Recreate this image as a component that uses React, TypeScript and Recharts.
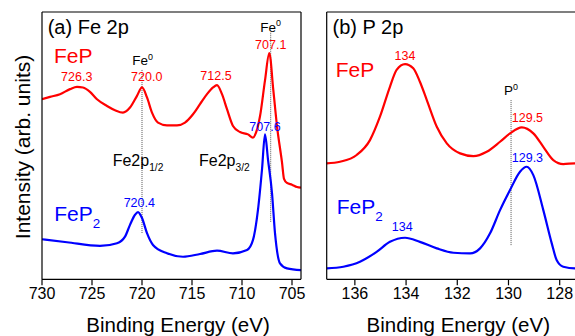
import { LineChart, Line, XAxis, YAxis, ReferenceLine, ReferenceDot } from 'recharts'

const FONT = "'Liberation Sans', Arial, Helvetica, sans-serif"
const RED = '#ff0000'
const BLUE = '#0000ff'
const BLACK = '#000000'

// Fe 2p panel (binding energy in eV, intensity in arb. units)
const feEnergyFeP = [730, 729.2, 728.2, 727.2, 726.5, 725.9, 725.2, 724.5, 723.5, 722.7, 721.9, 721.2, 720.5, 720.0, 719.5, 719.0, 718.4, 717.5, 716.5, 715.7, 714.9, 714.2, 713.5, 712.9, 712.5, 712.0, 711.5, 710.9, 710.2, 709.4, 708.9, 708.6, 708.2, 707.7, 707.27, 706.87, 706.5, 706.0, 705.8, 705.5, 705.0, 704.5, 704.1]
const feIntensityFeP = [12.62, 12.79, 12.99, 13.36, 13.53, 13.48, 13.16, 12.62, 12.13, 11.82, 11.64, 12.01, 12.87, 13.48, 12.75, 11.64, 10.91, 10.71, 10.71, 10.91, 11.52, 12.26, 12.99, 13.48, 13.65, 12.99, 11.89, 10.66, 10.22, 10.05, 9.81, 10.17, 11.37, 14.0, 16.0, 13.3, 10.66, 8.0, 6.8, 6.5, 6.37, 6.2, 6.15]

const feEnergyFeP2 = [730, 727.5, 724.2, 722.5, 721.7, 721.2, 720.7, 720.4, 720.0, 719.5, 718.9, 717.5, 715.9, 714.2, 712.5, 710.9, 709.5, 708.9, 708.4, 708.0, 707.7, 707.4, 707.0, 706.7, 706.2, 705.5, 704.1]
const feIntensityFeP2 = [2.38, 2.16, 1.89, 2.09, 2.57, 3.43, 4.17, 4.37, 3.93, 2.82, 1.96, 1.35, 1.1, 1.3, 1.54, 1.35, 1.59, 2.33, 4.54, 7.48, 10.05, 8.21, 5.76, 2.82, 0.62, 0.25, 0.12]

// P 2p panel
const pEnergyFeP = [137.1, 136.58, 135.93, 135.41, 135.02, 134.63, 134.37, 134.04, 133.72, 133.46, 133.19, 132.8, 132.41, 131.89, 131.37, 130.85, 130.33, 129.94, 129.48, 129.03, 128.64, 128.25, 127.86, 127.4, 127.0]
const pIntensityFeP = [7.93, 8.05, 8.54, 9.63, 11.34, 13.53, 14.76, 15.19, 14.88, 13.9, 12.56, 10.61, 9.39, 8.66, 8.46, 8.78, 9.51, 10.12, 10.56, 10.12, 9.14, 8.17, 7.88, 7.93, 7.93]

const pEnergyFeP2 = [137.1, 136.45, 135.8, 135.15, 134.63, 134.04, 133.46, 132.8, 132.15, 131.5, 131.11, 130.72, 130.33, 129.94, 129.55, 129.29, 129.03, 128.64, 128.31, 128.12, 127.86, 127.4, 127.0]
const pIntensityFeP2 = [0.25, 0.37, 0.73, 1.46, 2.19, 2.49, 2.19, 1.71, 1.39, 1.34, 1.71, 2.81, 4.51, 5.98, 7.32, 7.68, 7.07, 4.51, 2.08, 0.86, 0.37, 0.25, 0.25]

// axis ticks
const feTicks = [730, 725, 720, 715, 710, 705]
const feMinorTicks = [727.5, 722.5, 717.5, 712.5, 707.5]
const feTopTicks = [730, 727.5, 725, 722.5, 720, 717.5, 715, 712.5, 710, 707.5, 705]
const pTicks = [136, 134, 132, 130, 128]
const pMinorTicks = [137, 135, 133, 131, 129, 127]
const pTopTicks = [137, 136, 135, 134, 133, 132, 131, 130, 129, 128, 127]
const yTicks = [0, 1, 2, 3, 4, 5, 6, 7, 8, 9, 10, 11, 12, 13, 14, 15, 16, 17, 18, 19]
const yDomain = [-0.55, 19]

// dotted guide lines (energy, from, to)
const feGuides = [
  { x: 720.0, from: 2.84, to: 14.78 },
  { x: 707.13, from: 3.66, to: 17.5 },
]
const pGuides = [{ x: 129.9, from: 1.95, to: 12.56 }]

type Note = {
  x: number
  y: number
  text: string
  sub?: string
  sup?: string
  color: string
  size: number
  anchor?: 'start' | 'middle'
}

const feNotes: Note[] = [
  { x: 729.43, y: 17.39, text: '(a) Fe 2p', color: BLACK, size: 20, anchor: 'start' },
  { x: 728.8, y: 15.25, text: 'FeP', color: RED, size: 21, anchor: 'start' },
  { x: 726.53, y: 13.95, text: '726.3', color: RED, size: 12.5 },
  { x: 719.93, y: 15.12, text: 'Fe', sup: '0', color: BLACK, size: 13.5 },
  { x: 719.53, y: 13.95, text: '720.0', color: RED, size: 12.5 },
  { x: 712.6, y: 14.02, text: '712.5', color: RED, size: 12.5 },
  { x: 707.13, y: 17.56, text: 'Fe', sup: '0', color: BLACK, size: 13.5 },
  { x: 707.13, y: 16.29, text: '707.1', color: RED, size: 12.5 },
  { x: 707.7, y: 10.29, text: '707.6', color: BLUE, size: 12.5 },
  { x: 722.93, y: 7.75, text: 'Fe2p', sub: '1/2', color: BLACK, size: 16, anchor: 'start' },
  { x: 714.3, y: 7.75, text: 'Fe2p', sub: '3/2', color: BLACK, size: 16, anchor: 'start' },
  { x: 728.77, y: 3.71, text: 'FeP', sub: '2', color: BLUE, size: 21, anchor: 'start' },
  { x: 720.27, y: 4.71, text: '720.4', color: BLUE, size: 12.5 },
]

const pNotes: Note[] = [
  { x: 136.87, y: 17.39, text: '(b) P 2p', color: BLACK, size: 20, anchor: 'start' },
  { x: 136.75, y: 14.22, text: 'FeP', color: RED, size: 21, anchor: 'start' },
  { x: 134.04, y: 15.49, text: '134', color: RED, size: 12.5 },
  { x: 129.9, y: 12.93, text: 'P', sup: '0', color: BLACK, size: 13.5 },
  { x: 129.26, y: 10.93, text: '129.5', color: RED, size: 12.5 },
  { x: 129.26, y: 8.05, text: '129.3', color: BLUE, size: 12.5 },
  { x: 136.71, y: 4.2, text: 'FeP', sub: '2', color: BLUE, size: 21, anchor: 'start' },
  { x: 134.15, y: 2.98, text: '134', color: BLUE, size: 12.5 },
]

const toPoints = (xs: number[], ys: number[]) => xs.map((x, i) => ({ x, y: ys[i] }))

function noteLabel(n: Note) {
  return (props: any) => {
    const vb = props.viewBox || { x: 0, y: 0, width: 0, height: 0 }
    const cx = vb.x + (vb.width || 0) / 2
    const cy = vb.y + (vb.height || 0) / 2
    return (
      <text
        x={cx}
        y={cy}
        fill={n.color}
        fontSize={n.size}
        fontFamily={FONT}
        textAnchor={n.anchor ?? 'middle'}
      >
        {n.text}
        {n.sub && (
          <tspan fontSize={n.size * 0.64} dy={n.size * 0.33}>
            {n.sub}
          </tspan>
        )}
        {n.sup && (
          <tspan fontSize={n.size * 0.66} dy={-n.size * 0.4}>
            {n.sup}
          </tspan>
        )}
      </text>
    )
  }
}

interface PanelProps {
  left: number
  width: number
  margin: { top: number; right: number; bottom: number; left: number }
  domain: number[]
  ticks: number[]
  minorTicks: number[]
  topTicks: number[]
  red: { x: number; y: number }[]
  blue: { x: number; y: number }[]
  guides: { x: number; from: number; to: number }[]
  notes: Note[]
}

const axisStroke = { stroke: BLACK, strokeWidth: 1.2 }
// axes need a non-zero box to be drawn; keep it tiny so the frame sits on the plot edge
const THIN = 0.001

function Panel({ left, width, margin, domain, ticks, minorTicks, topTicks, red, blue, guides, notes }: PanelProps) {
  return (
    <div style={{ position: 'absolute', left, top: 0 }}>
      <LineChart width={width} height={336} margin={margin}>
        <XAxis
          xAxisId="main"
          type="number"
          dataKey="x"
          domain={domain}
          reversed
          allowDataOverflow
          ticks={ticks}
          interval={0}
          height={THIN}
          tickSize={6}
          tickMargin={2}
          axisLine={axisStroke}
          tickLine={axisStroke}
          tick={{ fontSize: 16, fill: BLACK, fontFamily: FONT }}
        />
        <XAxis
          xAxisId="minor"
          type="number"
          dataKey="x"
          domain={domain}
          reversed
          allowDataOverflow
          ticks={minorTicks}
          interval={0}
          height={THIN}
          tickSize={3}
          axisLine={false}
          tickLine={axisStroke}
          tick={false}
        />
        <XAxis
          xAxisId="top"
          orientation="top"
          mirror
          type="number"
          dataKey="x"
          domain={domain}
          reversed
          allowDataOverflow
          ticks={topTicks}
          interval={0}
          height={THIN}
          tickSize={3}
          axisLine={axisStroke}
          tickLine={{ stroke: BLACK, strokeWidth: 1 }}
          tick={false}
        />
        <YAxis
          yAxisId="l"
          type="number"
          domain={yDomain}
          allowDataOverflow
          ticks={yTicks}
          interval={0}
          width={THIN}
          mirror
          tickSize={3.5}
          axisLine={axisStroke}
          tickLine={{ stroke: BLACK, strokeWidth: 1 }}
          tick={false}
        />
        <YAxis
          yAxisId="r"
          orientation="right"
          type="number"
          domain={yDomain}
          allowDataOverflow
          ticks={yTicks}
          interval={0}
          width={THIN}
          mirror
          tickSize={3.5}
          axisLine={axisStroke}
          tickLine={{ stroke: BLACK, strokeWidth: 1 }}
          tick={false}
        />
        {guides.map((g) => (
          <ReferenceLine
            key={g.x}
            xAxisId="main"
            yAxisId="l"
            segment={[
              { x: g.x, y: g.from },
              { x: g.x, y: g.to },
            ]}
            stroke="#555555"
            strokeWidth={1}
            strokeDasharray="1 1"
          />
        ))}
        <Line
          xAxisId="main"
          yAxisId="l"
          data={red}
          dataKey="y"
          type="monotone"
          stroke={RED}
          strokeWidth={2.2}
          dot={false}
          isAnimationActive={false}
        />
        <Line
          xAxisId="main"
          yAxisId="l"
          data={blue}
          dataKey="y"
          type="monotone"
          stroke={BLUE}
          strokeWidth={2.2}
          dot={false}
          isAnimationActive={false}
        />
        {notes.map((n, i) => (
          <ReferenceDot
            key={i}
            xAxisId="main"
            yAxisId="l"
            x={n.x}
            y={n.y}
            r={0}
            fill="none"
            stroke="none"
            label={noteLabel(n)}
          />
        ))}
      </LineChart>
    </div>
  )
}

export default function App() {
  return (
    <div
      style={{
        position: 'fixed',
        left: 0,
        top: 0,
        width: 575,
        height: 336,
        overflow: 'hidden',
        background: '#fff',
      }}
    >
      <Panel
        left={0}
        width={320}
        margin={{ top: 12, right: 19, bottom: 56.7, left: 42 }}
        domain={[704.1, 730]}
        ticks={feTicks}
        minorTicks={feMinorTicks}
        topTicks={feTopTicks}
        red={toPoints(feEnergyFeP, feIntensityFeP)}
        blue={toPoints(feEnergyFeP2, feIntensityFeP2)}
        guides={feGuides}
        notes={feNotes}
      />
      <Panel
        left={300}
        width={300}
        margin={{ top: 12, right: 14.7, bottom: 56.7, left: 26.7 }}
        domain={[127, 137.1]}
        ticks={pTicks}
        minorTicks={pMinorTicks}
        topTicks={pTopTicks}
        red={toPoints(pEnergyFeP, pIntensityFeP)}
        blue={toPoints(pEnergyFeP2, pIntensityFeP2)}
        guides={pGuides}
        notes={pNotes}
      />
      <svg
        width={575}
        height={336}
        style={{ position: 'absolute', left: 0, top: 0, pointerEvents: 'none' }}
      >
        <text
          transform="translate(30,147) rotate(-90)"
          textAnchor="middle"
          fontSize={21}
          fontFamily={FONT}
          fill={BLACK}
        >
          Intensity (arb. units)
        </text>
        <text x={178} y={331.5} textAnchor="middle" fontSize={20.5} fontFamily={FONT} fill={BLACK}>
          Binding Energy (eV)
        </text>
        <text x={458.3} y={331.5} textAnchor="middle" fontSize={20.5} fontFamily={FONT} fill={BLACK}>
          Binding Energy (eV)
        </text>
      </svg>
    </div>
  )
}
